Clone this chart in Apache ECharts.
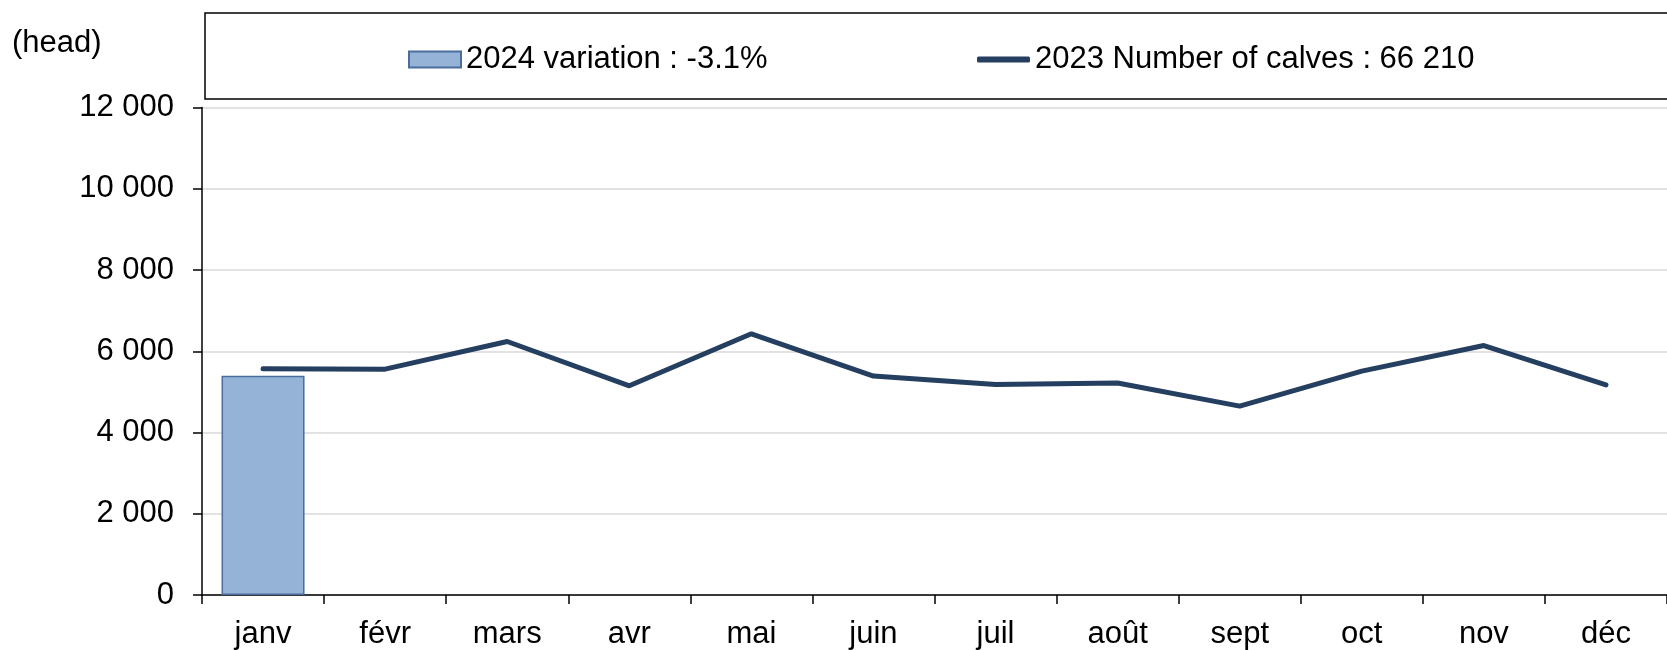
<!DOCTYPE html>
<html>
<head>
<meta charset="utf-8">
<script src="https://cdn.jsdelivr.net/npm/echarts@6/dist/echarts.min.js"></script>
<style>
    html, body { margin: 0; padding: 0; background: #fff; }
    #chart { width: 1667px; height: 650px; }
</style>
</head>
<body>
<div id="chart"></div>
<script>
// mois
var months = ['janv', 'févr', 'mars', 'avr', 'mai', 'juin', 'juil', 'août', 'sept', 'oct', 'nov', 'déc'];
// 2023 : nombre de veaux (total 66 210)
var calves2023 = [5570, 5560, 6240, 5150, 6430, 5390, 5180, 5220, 4650, 5510, 6140, 5170];
// 2024 : seulement janvier connu
var calves2024 = [5400, null, null, null, null, null, null, null, null, null, null, null];
var barName = '2024 variation : -3.1%';
var lineName = '2023 Number of calves : 66 210';

var font = 'Liberation Sans, Arial, sans-serif';

var myChart = echarts.init(document.getElementById('chart'));
var option = {
    animation: false,
    title: {
        text: '(head)',
        left: 12,
        top: 28,
        padding: 0,
        textStyle: { fontFamily: font, fontSize: 31, fontWeight: 'normal', color: '#000' }
    },
    graphic: [{
        type: 'rect',
        shape: { x: 205, y: 13, width: 1480, height: 86 },
        style: { fill: 'none', stroke: '#000', lineWidth: 1.5 },
        z: 100
    }],
    legend: [{
        data: [{ name: barName, icon: 'rect' }],
        left: 408,
        top: 44,
        padding: 0,
        itemWidth: 52,
        itemHeight: 16,
        textStyle: { fontFamily: font, fontSize: 31, color: '#000' }
    }, {
        data: [{ name: lineName, icon: 'roundRect', itemStyle: { color: '#243f60' } }],
        left: 977,
        top: 44,
        padding: 0,
        itemWidth: 53,
        itemHeight: 6,
        textStyle: { fontFamily: font, fontSize: 31, color: '#000' }
    }],
    grid: {
        left: 202,
        right: -13,
        top: 107.5,
        bottom: 54.7
    },
    xAxis: {
        type: 'category',
        data: months,
        boundaryGap: true,
        axisLine: { lineStyle: { color: '#000', width: 1.5 } },
        axisTick: { show: true, interval: 0, length: 9, lineStyle: { color: '#000', width: 1.5 } },
        axisLabel: { interval: 0, margin: 24, fontFamily: font, fontSize: 31, color: '#000' }
    },
    yAxis: {
        type: 'value',
        min: 0,
        max: 12000,
        interval: 2000,
        axisLine: { show: true, lineStyle: { color: '#000', width: 1.5 } },
        axisTick: { show: true, length: 9, lineStyle: { color: '#000', width: 1.5 } },
        splitLine: { lineStyle: { color: '#d9d9d9', width: 1.5 } },
        axisLabel: {
            margin: 28,
            fontFamily: font,
            fontSize: 31,
            color: '#000',
            formatter: function (v) {
                return String(v).replace(/\B(?=(\d{3})+(?!\d))/g, ' ');
            }
        }
    },
    series: [{
        name: barName,
        type: 'bar',
        data: calves2024,
        barWidth: '68%',
        itemStyle: { color: '#95b3d7', borderColor: '#4a6d9e', borderWidth: 1.5 }
    }, {
        name: lineName,
        type: 'line',
        data: calves2023,
        symbol: 'none',
        lineStyle: { color: '#243f60', width: 5, cap: 'round' },
        itemStyle: { color: '#243f60' }
    }]
};
myChart.setOption(option);
</script>
</body>
</html>
